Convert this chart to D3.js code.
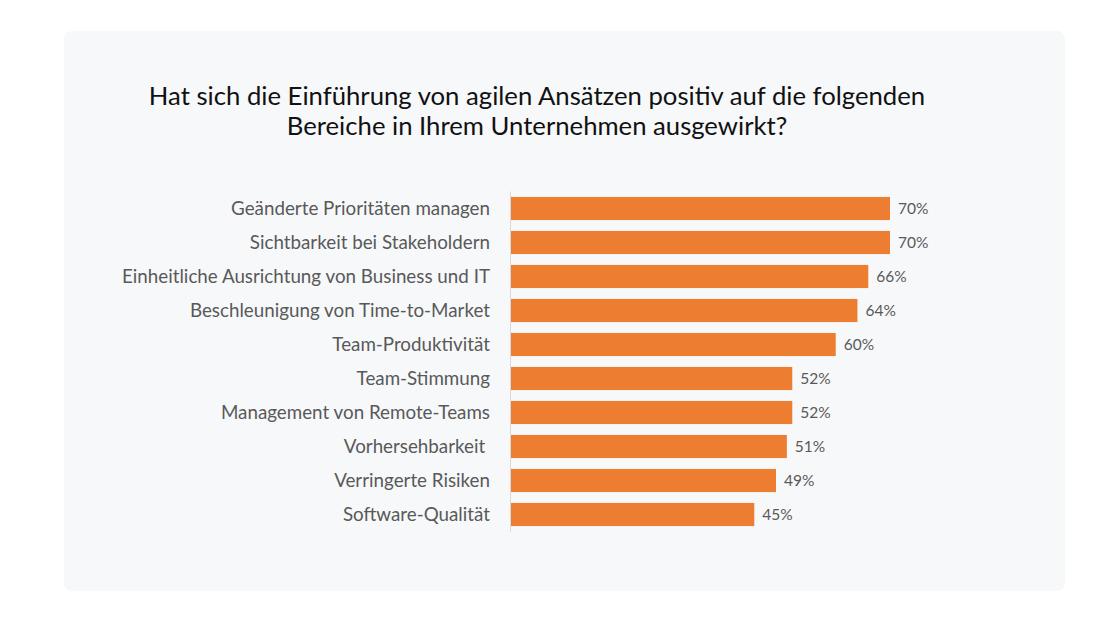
<!DOCTYPE html>
<html><head><meta charset="utf-8">
<script src="https://cdn.jsdelivr.net/npm/d3@7"></script>
<style>html,body{margin:0;padding:0;background:#fff;}</style>
</head><body>
<svg id="chart" width="1100" height="619"></svg>
<script>
const categories = ["Geänderte Prioritäten managen","Sichtbarkeit bei Stakeholdern","Einheitliche Ausrichtung von Business und IT","Beschleunigung von Time-to-Market","Team-Produktivität","Team-Stimmung","Management von Remote-Teams","Vorhersehbarkeit ","Verringerte Risiken","Software-Qualität"];
const values = [70,70,66,64,60,52,52,51,49,45];
const valueLabels = ["70%","70%","66%","64%","60%","52%","52%","51%","49%","45%"];
const titleLines = ["Hat sich die Einführung von agilen Ansätzen positiv auf die folgenden","Bereiche in Ihrem Unternehmen ausgewirkt?"];

const svg = d3.select("#chart");
svg.append("rect").attr("x",64).attr("y",31).attr("width",1001).attr("height",560).attr("rx",8).attr("fill","#f7f8fa");

svg.append("g").selectAll("text").data(titleLines).join("text")
  .attr("x",537).attr("y",(d,i)=>105+i*30)
  .attr("text-anchor","middle")
  .style("font-family","Lato, sans-serif").style("font-size","25.7px").style("fill","#111")
  .text(d=>d);

const x = d3.scaleLinear().domain([0,70]).range([510,890]);
const y = d3.scaleBand().domain(categories).range([191.5,531.5]).paddingInner(0.32).paddingOuter(0.16);

svg.append("g").selectAll("rect").data(values).join("rect")
  .attr("x",x(0)).attr("y",(d,i)=>y(categories[i]))
  .attr("width",d=>x(d)-x(0)).attr("height",y.bandwidth())
  .attr("fill","#ED7D31");

const yAxis = svg.append("g").attr("transform",`translate(${x(0)},0)`)
  .call(d3.axisLeft(y).tickSize(0).tickPadding(20));
yAxis.select(".domain").attr("stroke","#d9d9d9").attr("d",`M0.5,${y.range()[0]}V${y.range()[1]}`);
yAxis.selectAll("text").style("font-family","Lato, sans-serif").style("font-size","18.8px").style("fill","#595959").attr("xml:space","preserve").style("white-space","pre");

svg.append("g").selectAll("text").data(values).join("text")
  .attr("x",d=>x(d)+8).attr("y",(d,i)=>y(categories[i])+y.bandwidth()/2)
  .attr("dy","0.35em")
  .style("font-family","Lato, sans-serif").style("font-size","15.5px").style("fill","#595959")
  .text((d,i)=>valueLabels[i]);
</script>
</body></html>
